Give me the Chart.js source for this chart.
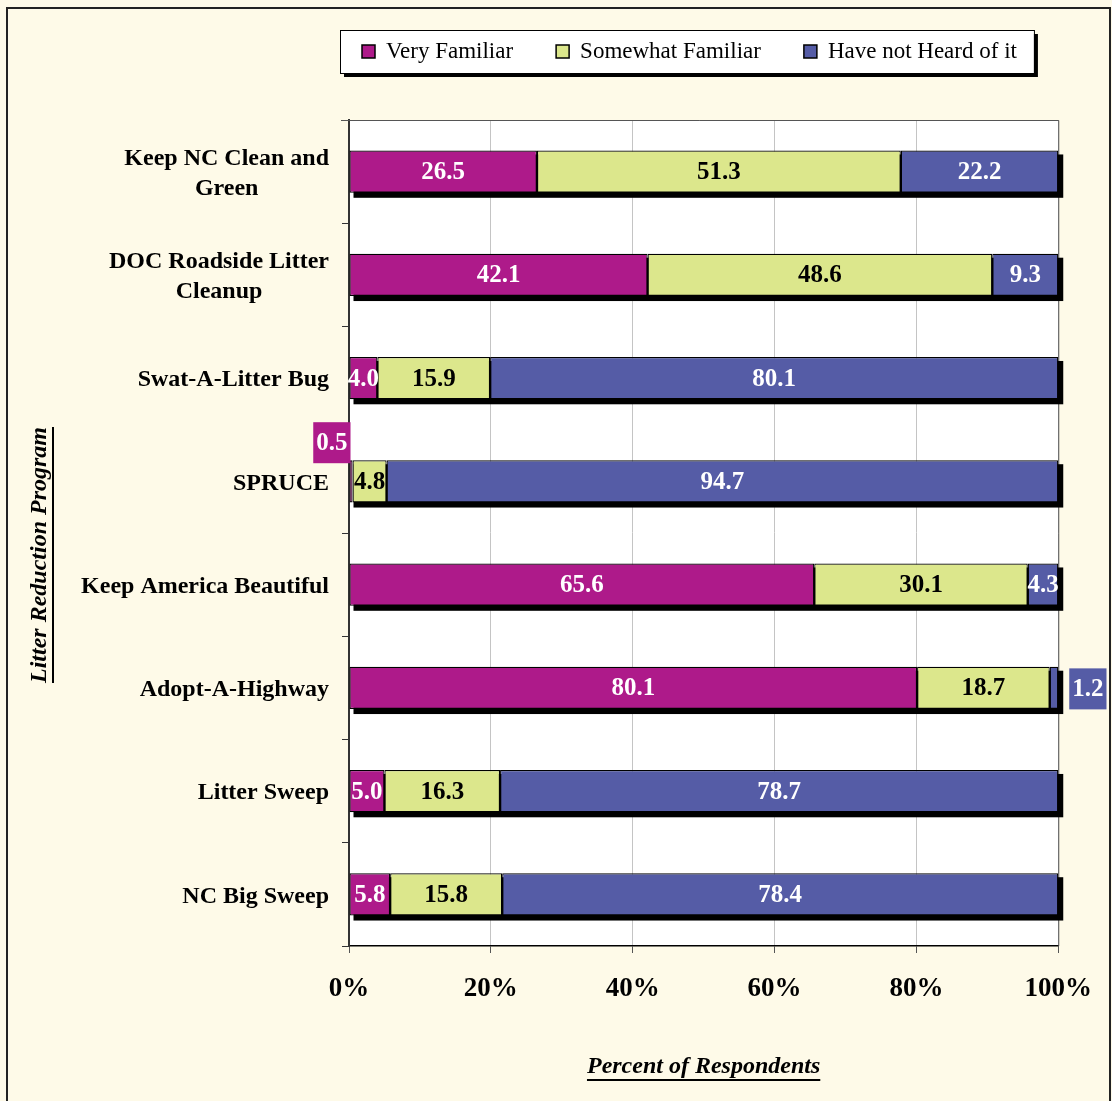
<!DOCTYPE html>
<html><head><meta charset="utf-8">
<script src="https://cdn.jsdelivr.net/npm/chart.js@4/dist/chart.umd.min.js"></script>
<style>html,body{margin:0;padding:0;background:#fff;}#wrap{width:1112px;height:1101px;}</style>
</head><body><div id="wrap"><canvas id="c" width="1112" height="1101"></canvas></div>
<script>
const programs = [["Keep NC Clean and","Green"],["DOC Roadside Litter","Cleanup"],"Swat-A-Litter Bug","SPRUCE","Keep America Beautiful","Adopt-A-Highway","Litter Sweep","NC Big Sweep"];
const veryFamiliar = [26.5,42.1,4.0,0.5,65.6,80.1,5.0,5.8];
const somewhatFamiliar = [51.3,48.6,15.9,4.8,30.1,18.7,16.3,15.8];
const notHeard = [22.2,9.3,80.1,94.7,4.3,1.2,78.7,78.4];
const seriesNames = ["Very Familiar","Somewhat Familiar","Have not Heard of it"];
const xTicks = [0,20,40,60,80,100];
const xTitle = "Percent of Respondents";
const yTitle = "Litter Reduction Program";

const colors = ["#AE1A8A","#DCE78C","#555CA6"];
const labelColors = ["#fff","#000","#fff"];
const SERIF = "'Liberation Serif','Times New Roman',serif";
const CREAM = "#FEFAE8";

const bgPlugin = {
  id:'bg',
  beforeDraw(chart){
    const ctx = chart.ctx, a = chart.chartArea;
    ctx.save();
    ctx.fillStyle = CREAM; ctx.fillRect(0,0,chart.width,chart.height);
    ctx.strokeStyle = "#222"; ctx.lineWidth = 2;
    ctx.strokeRect(7,8,1103,1100);
    ctx.fillStyle = "#fff"; ctx.fillRect(a.left,a.top,a.right-a.left,a.bottom-a.top);
    // legend box
    ctx.font = "23px " + SERIF;
    const bx = a.left - 9, by = 30, bh = 43;
    let w = 22;
    seriesNames.forEach((n,i)=>{ w += 13 + 11 + ctx.measureText(n).width + (i<seriesNames.length-1?43:0); });
    w += 17;
    ctx.fillStyle = "#000"; ctx.fillRect(bx+4,by+4,w,bh);
    ctx.fillStyle = "#fff"; ctx.fillRect(bx,by,w,bh);
    ctx.strokeStyle = "#000"; ctx.lineWidth = 1; ctx.strokeRect(bx+0.5,by+0.5,w,bh);
    let x = bx + 22;
    seriesNames.forEach((n,i)=>{
      ctx.fillStyle = colors[i]; ctx.fillRect(x,by+15,13,13);
      ctx.strokeStyle="#000"; ctx.lineWidth=1.5; ctx.strokeRect(x,by+15,13,13);
      ctx.fillStyle = "#000"; ctx.textBaseline = "middle"; ctx.textAlign="left";
      ctx.fillText(n, x+24, by+22);
      x += 13 + 11 + ctx.measureText(n).width + 43;
    });
    ctx.restore();
  },
  beforeDatasetsDraw(chart){
    const ctx = chart.ctx, a = chart.chartArea;
    ctx.save();
    ctx.strokeStyle = "#555"; ctx.lineWidth = 1;
    ctx.beginPath(); ctx.moveTo(a.left-8,a.top+0.5); ctx.lineTo(a.right+0.5,a.top+0.5); ctx.lineTo(a.right+0.5,a.bottom); ctx.stroke();
    // shadows
    const m0 = chart.getDatasetMeta(0).data, m2 = chart.getDatasetMeta(2).data;
    ctx.fillStyle = "#000";
    m0.forEach((el,i)=>{
      const start = el.base, end = m2[i].x, h = el.height;
      ctx.fillRect(start+4, el.y-h/2+4, end-start+1, h+1);
    });
    ctx.restore();
  },
  afterDatasetsDraw(chart){
    const ctx = chart.ctx;
    ctx.save();
    ctx.font = "bold 25px " + SERIF;
    ctx.textAlign="center"; ctx.textBaseline="middle";
    chart.data.datasets.forEach((ds,d)=>{
      chart.getDatasetMeta(d).data.forEach((el,i)=>{
        const v = ds.data[i], txt = v.toFixed(1);
        const left = Math.min(el.base, el.x), right = Math.max(el.base, el.x);
        const wd = right-left;
        if (wd < 10) {
          const tw = ctx.measureText(txt).width + 6, th = 41;
          let bx, by;
          if (d === 0) { bx = left - tw + 1; by = el.y - el.height/2 - th + 3; }
          else { bx = right + 11; by = el.y - th/2 + 1; }
          ctx.fillStyle = colors[d]; ctx.fillRect(bx,by,tw,th);
          ctx.fillStyle = labelColors[d]; ctx.fillText(txt, bx+tw/2, by+th/2+1);
        } else {
          ctx.fillStyle = labelColors[d];
          ctx.fillText(txt, (left+right)/2, el.y+1);
        }
      });
    });
    ctx.restore();
  },
  afterDraw(chart){
    const ctx = chart.ctx, a = chart.chartArea, ys = chart.scales.y;
    ctx.save();
    // y category labels, block right-aligned, lines centered
    ctx.font = "bold 24px " + SERIF; ctx.fillStyle="#000"; ctx.textBaseline="middle"; ctx.textAlign="center";
    const rightEdge = a.left - 20, lh = 30;
    programs.forEach((p,i)=>{
      const lines = Array.isArray(p)?p:[p];
      const bw = Math.max(...lines.map(l=>ctx.measureText(l).width));
      const cx = rightEdge - bw/2, cy = ys.getPixelForValue(i) + 2;
      lines.forEach((l,k)=>{
        const yy = cy + (k - (lines.length-1)/2)*lh;
        ctx.fillText(l, cx, yy);
      });
    });
    // axis titles with underline
    ctx.font = "italic bold 24px " + SERIF;
    const tw = ctx.measureText(xTitle).width, tx = (a.left+a.right)/2, ty = 1067;
    ctx.fillText(xTitle, tx, ty);
    ctx.fillRect(tx-tw/2, ty+12, tw, 2);
    ctx.translate(40, 555); ctx.rotate(-Math.PI/2);
    const tw2 = ctx.measureText(yTitle).width;
    ctx.fillText(yTitle, 0, 0);
    ctx.fillRect(-tw2/2, 12, tw2, 2);
    ctx.restore();
  }
};

new Chart(document.getElementById('c'), {
  type:'bar',
  data:{
    labels: programs,
    datasets: seriesNames.map((n,i)=>({
      label:n, data:[veryFamiliar,somewhatFamiliar,notHeard][i],
      backgroundColor: colors[i], borderColor:"#000", borderWidth:1.2,
      barPercentage:0.41, categoryPercentage:1, borderSkipped:false
    }))
  },
  options:{
    indexAxis:'y', responsive:false, animation:false, devicePixelRatio:1,
    layout:{padding:{left:0,right:53,top:120,bottom:0}},
    plugins:{legend:{display:false}, tooltip:{enabled:false}},
    scales:{
      x:{stacked:true, min:0, max:100,
        afterBuildTicks(s){ s.ticks = xTicks.map(v=>({value:v})); },
        afterFit(s){ s.height = 155; },
        grid:{color:"#c4c4c4", tickColor:"#555", tickLength:7, drawOnChartArea:true},
        border:{color:"#000", width:1.5},
        ticks:{padding:20, color:"#000", font:{family:SERIF, size:27, weight:'bold'}, callback:v=>v+'%', maxRotation:0}
      },
      y:{stacked:true, offset:true,
        afterFit(s){ s.width = 349; },
        grid:{offset:true, drawOnChartArea:false, color:"#333", tickLength:7},
        border:{color:"#333", width:2},
        ticks:{color:"rgba(0,0,0,0)", font:{family:SERIF,size:22,weight:'bold'}}
      }
    }
  },
  plugins:[bgPlugin]
});
</script></body></html>
